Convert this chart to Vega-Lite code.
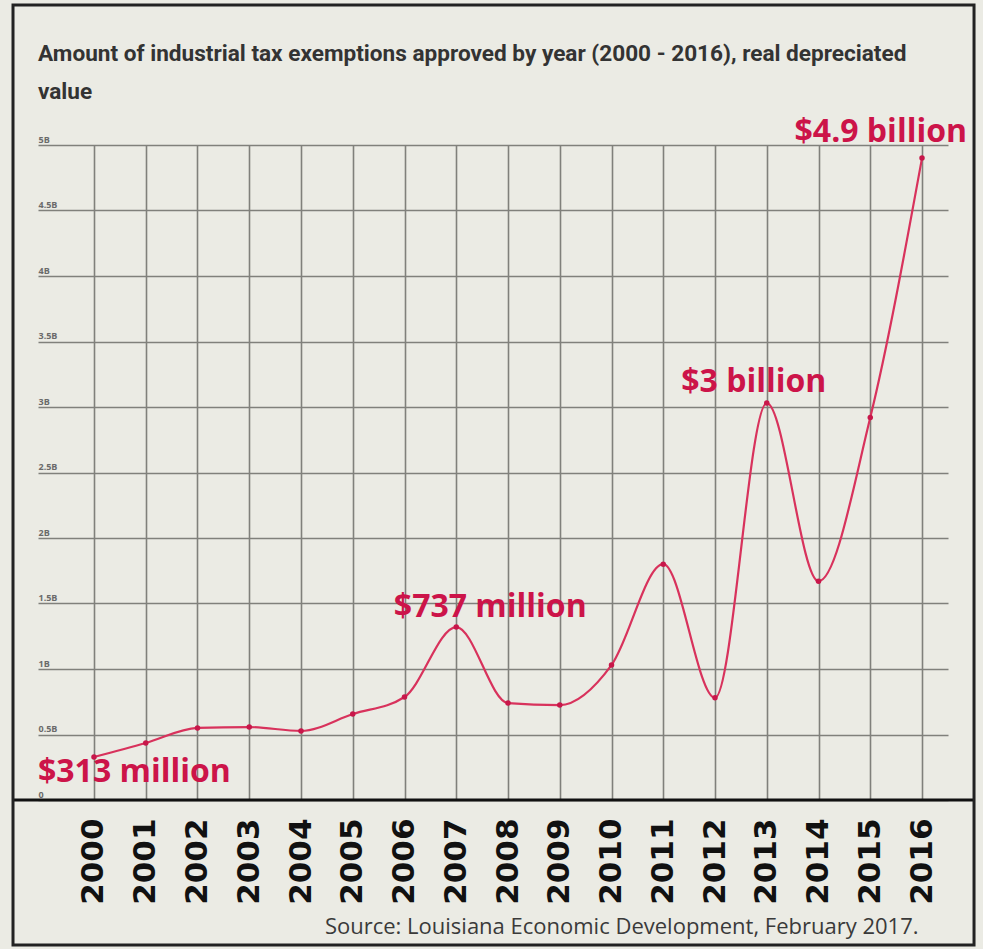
{
  "$schema": "https://vega.github.io/schema/vega-lite/v6.json",
  "width": 910,
  "height": 655,
  "autosize": {"type": "none"},
  "padding": {"left": 38, "top": 145, "right": 35, "bottom": 149},
  "background": "#ebebe4",
  "config": {"view": {"stroke": null}},
  "title": {
    "text": ["Amount of industrial tax exemptions approved by year (2000 - 2016), real depreciated", "value"],
    "anchor": "start",
    "frame": "group",
    "font": "Roboto",
    "fontWeight": "bold",
    "fontSize": 22.6,
    "color": "#333333",
    "lineHeight": 38,
    "offset": -100
  },
  "data": {
    "values": [
      {"year": 2000, "value": 0.328, "label": "$313 million"},
      {"year": 2001, "value": 0.435},
      {"year": 2002, "value": 0.55},
      {"year": 2003, "value": 0.557},
      {"year": 2004, "value": 0.527},
      {"year": 2005, "value": 0.656},
      {"year": 2006, "value": 0.786},
      {"year": 2007, "value": 1.32, "label": "$737 million"},
      {"year": 2008, "value": 0.74},
      {"year": 2009, "value": 0.725},
      {"year": 2010, "value": 1.03},
      {"year": 2011, "value": 1.8},
      {"year": 2012, "value": 0.78},
      {"year": 2013, "value": 3.03, "label": "$3 billion"},
      {"year": 2014, "value": 1.67},
      {"year": 2015, "value": 2.92},
      {"year": 2016, "value": 4.9, "label": "$4.9 billion"}
    ]
  },
  "layer": [
    {
      "mark": {"type": "line", "interpolate": "monotone", "color": "#d8325c", "strokeWidth": 2.2},
      "encoding": {
        "x": {
          "field": "year", "type": "quantitative",
          "scale": {"domain": [1998.918, 2016.502], "nice": false, "zero": false},
          "axis": {
            "orient": "bottom",
            "values": [2000, 2001, 2002, 2003, 2004, 2005, 2006, 2007, 2008, 2009, 2010, 2011, 2012, 2013, 2014, 2015, 2016],
            "format": "d",
            "labelAngle": -90,
            "labelAlign": "right",
            "labelBaseline": "middle",
            "labelFont": "DejaVu Sans",
            "labelFontWeight": "bold",
            "labelFontSize": 31,
            "labelColor": "#111111",
            "labelPadding": 18,
            "labelOverlap": false,
            "labelFlush": false,
            "domain": false,
            "ticks": false,
            "tickSize": 0,
            "grid": true,
            "gridColor": "#80807b",
            "gridWidth": 1.6,
            "title": "Source: Louisiana Economic Development, February 2017.",
            "titleFont": "Open Sans",
            "titleFontWeight": "normal",
            "titleFontSize": 22,
            "titleColor": "#3a3a3a",
            "titleAlign": "right",
            "titleAnchor": "end",
            "titleBaseline": "alphabetic",
            "titleX": 880,
            "titleY": 133
          }
        },
        "y": {
          "field": "value", "type": "quantitative",
          "scale": {"domain": [0, 5], "nice": false, "zero": false},
          "axis": {
            "values": [0, 0.5, 1, 1.5, 2, 2.5, 3, 3.5, 4, 4.5, 5],
            "labelExpr": "datum.value == 0 ? '0' : datum.value + 'B'",
            "labelAlign": "left",
            "labelBaseline": "alphabetic",
            "labelOffset": -3,
            "labelPadding": 0,
            "labelFont": "Open Sans",
            "labelFontWeight": "bold",
            "labelFontSize": 9,
            "labelColor": "#6a6a6a",
            "domain": false,
            "ticks": false,
            "tickSize": 0,
            "grid": true,
            "gridColor": "#80807b",
            "gridWidth": 1.6,
            "title": null
          }
        }
      }
    },
    {
      "mark": {"type": "circle", "size": 30, "color": "#c8174a", "opacity": 1},
      "encoding": {
        "x": {"field": "year", "type": "quantitative", "scale": {"domain": [1998.918, 2016.502], "nice": false, "zero": false}},
        "y": {"field": "value", "type": "quantitative", "scale": {"domain": [0, 5], "nice": false, "zero": false}}
      }
    },
    {
      "transform": [{"filter": "datum.year == 2000"}],
      "mark": {"type": "text", "font": "Open Sans", "fontWeight": "bold", "fontSize": 32, "color": "#cc1449", "align": "left", "baseline": "alphabetic", "dx": -56, "dy": 25},
      "encoding": {
        "x": {"field": "year", "type": "quantitative", "scale": {"domain": [1998.918, 2016.502], "nice": false, "zero": false}},
        "y": {"field": "value", "type": "quantitative", "scale": {"domain": [0, 5], "nice": false, "zero": false}},
        "text": {"field": "label"}
      }
    },
    {
      "transform": [{"filter": "datum.year == 2007"}],
      "mark": {"type": "text", "font": "Open Sans", "fontWeight": "bold", "fontSize": 32, "color": "#cc1449", "align": "center", "baseline": "alphabetic", "dx": 34, "dy": -10},
      "encoding": {
        "x": {"field": "year", "type": "quantitative", "scale": {"domain": [1998.918, 2016.502], "nice": false, "zero": false}},
        "y": {"field": "value", "type": "quantitative", "scale": {"domain": [0, 5], "nice": false, "zero": false}},
        "text": {"field": "label"}
      }
    },
    {
      "transform": [{"filter": "datum.year == 2013"}],
      "mark": {"type": "text", "font": "Open Sans", "fontWeight": "bold", "fontSize": 32, "color": "#cc1449", "align": "center", "baseline": "alphabetic", "dx": -13, "dy": -11},
      "encoding": {
        "x": {"field": "year", "type": "quantitative", "scale": {"domain": [1998.918, 2016.502], "nice": false, "zero": false}},
        "y": {"field": "value", "type": "quantitative", "scale": {"domain": [0, 5], "nice": false, "zero": false}},
        "text": {"field": "label"}
      }
    },
    {
      "transform": [{"filter": "datum.year == 2016"}],
      "mark": {"type": "text", "font": "Open Sans", "fontWeight": "bold", "fontSize": 32, "color": "#cc1449", "align": "right", "baseline": "alphabetic", "dx": 45, "dy": -16},
      "encoding": {
        "x": {"field": "year", "type": "quantitative", "scale": {"domain": [1998.918, 2016.502], "nice": false, "zero": false}},
        "y": {"field": "value", "type": "quantitative", "scale": {"domain": [0, 5], "nice": false, "zero": false}},
        "text": {"field": "label"}
      }
    },
    {
      "data": {"values": [{}]},
      "mark": {"type": "rule", "stroke": "#111111", "strokeWidth": 3, "clip": false},
      "encoding": {
        "x": {"datum": 1998.435, "type": "quantitative", "scale": {"domain": [1998.918, 2016.502], "nice": false, "zero": false}},
        "x2": {"datum": 2017.005},
        "y": {"datum": 0, "type": "quantitative", "scale": {"domain": [0, 5], "nice": false, "zero": false}}
      }
    },
    {
      "data": {"values": [{}]},
      "mark": {"type": "rect", "filled": false, "stroke": "#222222", "strokeWidth": 3, "clip": false},
      "encoding": {
        "x": {"datum": 1998.435, "type": "quantitative", "scale": {"domain": [1998.918, 2016.502], "nice": false, "zero": false}},
        "x2": {"datum": 2017.005},
        "y": {"datum": 6.069, "type": "quantitative", "scale": {"domain": [0, 5], "nice": false, "zero": false}},
        "y2": {"datum": -1.107}
      }
    }
  ]
}
